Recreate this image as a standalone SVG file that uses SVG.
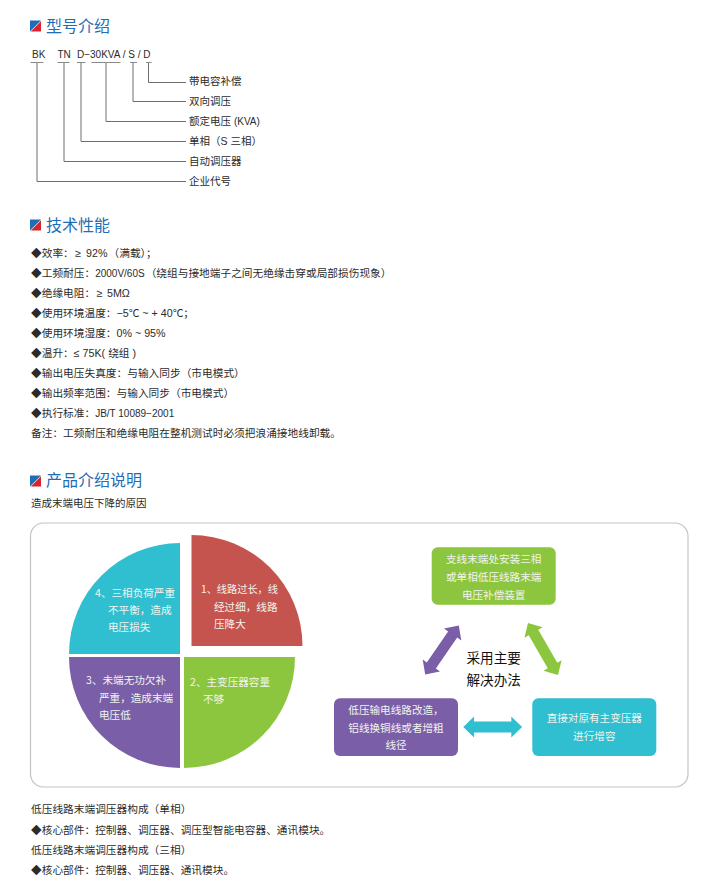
<svg xmlns="http://www.w3.org/2000/svg" width="728" height="895" viewBox="0 0 728 895">
<style>
text{font-family:"Liberation Sans","Noto Sans CJK SC",sans-serif;font-size:10.7px;fill:#2b2b2b}
.n{font-size:10.5px}
.h{font-family:"Noto Sans CJK SC",sans-serif;font-size:16px;fill:#1f6db5}
.w{fill:#f1f4ee;font-family:"Noto Sans CJK SC",sans-serif;font-size:10.6px}
.c{text-anchor:middle}
.m{font-family:"Noto Sans CJK SC",sans-serif;font-size:13.6px;fill:#111;text-anchor:middle}
.s{font-size:10px}
.l{fill:none;stroke:#6f6f6f;stroke-width:1}
.u{fill:none;stroke:#8a8a8a;stroke-width:1}
</style>
<defs>
<g id="ic"><polygon points="0,0 11,0 0,11" fill="#1f6db5"/><polygon points="11,0.8 11,11 0.8,11" fill="#d9232e"/></g>
<path id="da" d="M-30,0 L-19,-10.5 L-19,-5.5 L19,-5.5 L19,-10.5 L30,0 L19,10.5 L19,5.5 L-19,5.5 L-19,10.5 Z"/>
</defs>
<rect width="728" height="895" fill="#fff"/>
<rect id="panel" x="30.5" y="523" width="657.5" height="264" rx="13" fill="#fff" stroke="#c4c4c4" stroke-width="1.2"/>
<g id="section-model">
<use href="#ic" x="30" y="20.5"/>
<text class="h" x="46" y="31.5">型号介绍</text>
<text class="s" x="32" y="57.5">BK</text><text class="s" x="57.5" y="57.5">TN</text><text class="s" x="77" y="57.5">D−30KVA / S / D</text>
</g>
<g id="connectors">
<path class="u" d="M30.5,62.5H43.5M57.5,62.5H69.5M77,62.5H85.5M91.5,62.5H120.5M130,62.5H137M146,62.5H151.5"/>
<path class="l" d="M148.5,63V82.5H186M133,63V101.5H186M106,63V121.5H186M81,63V141.5H186M64,63V161.5H186M37,63V181.5H186"/>
<use href="#da" transform="translate(442,650) rotate(-55.5) scale(0.99,1)" fill="#7a5fa8"/>
<use href="#da" transform="translate(543,649) rotate(60)" fill="#8cc63f"/>
<use href="#da" transform="translate(492.7,727) scale(.98,1)" fill="#2fbfd0"/>
</g>
<g id="model-labels">
<text class="n" x="189" y="85">带电容补偿</text>
<text class="n" x="189" y="105">双向调压</text>
<text class="n" x="189" y="125">额定电压 <tspan class="s">(KVA)</tspan></text>
<text class="n" x="189" y="145">单相&#xFF08;S 三相&#xFF09;</text>
<text class="n" x="189" y="165">自动调压器</text>
<text class="n" x="189" y="185">企业代号</text>
</g>
<g id="section-specs">
<use href="#ic" x="30" y="219.5"/>
<text class="h" x="46" y="231">技术性能</text>
<text x="31" y="257">◆效率&#xFF1A;<tspan dx="1.5">≥</tspan><tspan dx="2"> 92%</tspan><tspan dx="1">&#xFF08;</tspan>满载&#xFF09;&#xFF1B;</text>
<text x="31" y="277">◆工频耐压&#xFF1A;<tspan class="s">2000V/60S</tspan><tspan dx="1">&#xFF08;</tspan>绕组与接地端子之间无绝缘击穿或局部损伤现象&#xFF09;</text>
<text x="31" y="297">◆绝缘电阻&#xFF1A;<tspan dx="1.5">≥</tspan><tspan dx="1.5"> 5MΩ</tspan></text>
<text x="31" y="317">◆使用环境温度&#xFF1A;−5℃ ~ + 40℃&#xFF1B;</text>
<text x="31" y="337">◆使用环境湿度&#xFF1A;0% ~ 95%</text>
<text x="31" y="357">◆温升&#xFF1A;≤ 75K( 绕组 )</text>
<text x="31" y="377">◆输出电压失真度&#xFF1A;与输入同步&#xFF08;市电模式&#xFF09;</text>
<text x="31" y="397">◆输出频率范围&#xFF1A;与输入同步&#xFF08;市电模式&#xFF09;</text>
<text x="31" y="417">◆执行标准&#xFF1A;<tspan class="s">JB/T 10089−2001</tspan></text>
<text x="31" y="437">备注&#xFF1A;工频耐压和绝缘电阻在整机测试时必须把浪涌接地线卸载。</text>
</g>
<g id="section-intro">
<use href="#ic" x="30" y="475.5"/>
<text class="h" x="46" y="486">产品介绍说明</text>
<text class="n" x="31" y="506.5">造成末端电压下降的原因</text>
</g>
<g id="pie-1"><path d="M191.5,646V535A111,111 0 0 1 302.5,646Z" fill="#c5544f"/>
<text class="w" x="201" y="593" style="font-size:10.2px">1、线路过长&#xFF0C;线</text><text class="w" x="214" y="611">经过细&#xFF0C;线路</text><text class="w" x="214" y="628">压降大</text></g>
<g id="pie-2"><path d="M184,657H295A111,111 0 0 1 184,768Z" fill="#8cc63f"/>
<text class="w" x="190" y="685.5">2、主变压器容量</text><text class="w" x="203" y="703">不够</text></g>
<g id="pie-3"><path d="M180,657V768A111,111 0 0 1 69,657Z" fill="#7a5fa8"/>
<text class="w" x="86" y="684">3、未端无功欠补</text><text class="w" x="99" y="702">严重&#xFF0C;造成末端</text><text class="w" x="99" y="719">电压低</text></g>
<g id="pie-4"><path d="M180,654H69A111,111 0 0 1 180,543Z" fill="#2fbfd0"/>
<text class="w" x="95" y="596.5">4、三相负荷严重</text><text class="w" x="108" y="614">不平衡&#xFF0C;造成</text><text class="w" x="108" y="631">电压损失</text></g>
<g id="box-green"><rect x="431.7" y="547.3" width="124" height="57.5" rx="6" fill="#8cc63f"/>
<text class="w c" x="493.7" y="563">支线末端处安装三相</text><text class="w c" x="493.7" y="581">或单相低压线路末端</text><text class="w c" x="493.7" y="599">电压补偿装置</text></g>
<g id="box-purple"><rect x="334" y="698.3" width="124" height="57.7" rx="6" fill="#7a5fa8"/>
<text class="w c" x="396" y="714">低压输电线路改造&#xFF0C;</text><text class="w c" x="396" y="732">铝线换铜线或者增粗</text><text class="w c" x="396" y="749">线径</text></g>
<g id="box-cyan"><rect x="532.3" y="698.3" width="124" height="57.7" rx="6" fill="#2fbfd0"/>
<text class="w c" x="594.3" y="722">直接对原有主变压器</text><text class="w c" x="594.3" y="740">进行增容</text></g>
<g id="center-label"><text class="m" x="493.7" y="662.5">采用主要</text><text class="m" x="493.7" y="685">解决办法</text></g>
<g id="section-bottom">
<text x="31" y="813">低压线路末端调压器构成&#xFF08;单相&#xFF09;</text>
<text x="31" y="834">◆核心部件&#xFF1A;控制器、调压器、调压型智能电容器、通讯模块。</text>
<text x="31" y="853.5">低压线路末端调压器构成&#xFF08;三相&#xFF09;</text>
<text x="31" y="874">◆核心部件&#xFF1A;控制器、调压器、通讯模块。</text>
</g>
</svg>
